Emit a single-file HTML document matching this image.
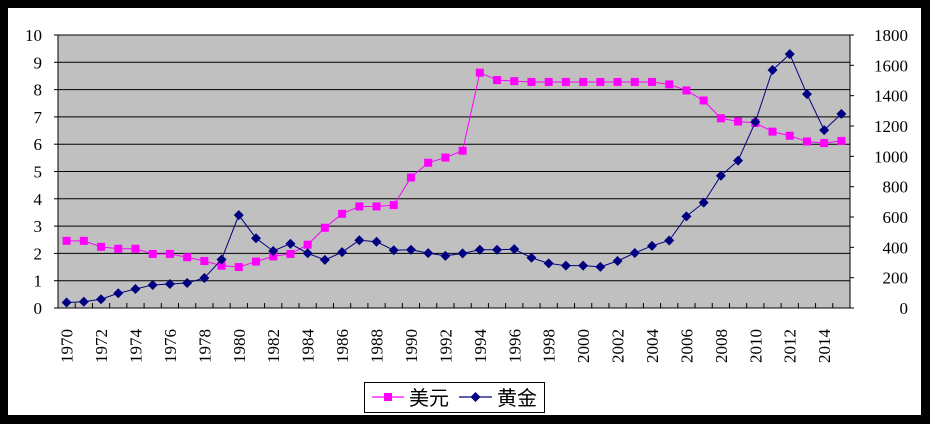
<!DOCTYPE html>
<html><head><meta charset="utf-8"><style>
html,body{margin:0;padding:0;background:#000;}
svg{display:block;}
text{font-family:"Liberation Serif","Noto Serif CJK SC",serif;fill:#000;}
</style></head><body>
<svg id="s" width="930" height="424" xmlns="http://www.w3.org/2000/svg">
<rect x="0" y="0" width="930" height="424" fill="#000"/>
<rect x="8" y="8" width="913" height="407" fill="#fff"/>
<rect x="58" y="35" width="792" height="273" fill="#c0c0c0" stroke="#808080" stroke-width="1"/>
<g id="g"></g>
<rect x="364.5" y="382.5" width="180" height="30" fill="#fff" stroke="#000"/>
<line x1="372" y1="397" x2="404" y2="397" stroke="#ff00ff" stroke-width="1.2"/>
<rect x="384" y="393" width="8" height="8" fill="#ff00ff"/>
<text x="409" y="405" font-size="20" style="font-family:'Noto Sans CJK SC',sans-serif">美元</text>
<line x1="459" y1="397" x2="492" y2="397" stroke="#000080" stroke-width="1.2"/>
<polygon points="475.5,392 480.5,397 475.5,402 470.5,397" fill="#000080"/>
<text x="497" y="405" font-size="20" style="font-family:'Noto Sans CJK SC',sans-serif">黄金</text>
</svg>
<script>
var g=document.getElementById('g'),h='';
var L=58,R=850,T=35,B=308,H=273,n=46,cw=(R-L)/n;
for(var i=1;i<=10;i++){var y=B-i*H/10;h+='<line x1="58" y1="'+y+'" x2="850" y2="'+y+'" stroke="#000" stroke-width="1"/>';}
for(var i=0;i<=10;i++){var y=B-i*H/10;h+='<line x1="54" y1="'+y+'" x2="58" y2="'+y+'" stroke="#000"/>';h+='<text x="42" y="'+(y+6)+'" font-size="17" text-anchor="end">'+i+'</text>';}
for(var i=0;i<=9;i++){var y=B-i*H/9;h+='<line x1="850" y1="'+y+'" x2="854" y2="'+y+'" stroke="#000"/>';h+='<text x="908" y="'+(y+6)+'" font-size="17" text-anchor="end">'+(i*200)+'</text>';}
h+='<line x1="58" y1="308" x2="850" y2="308" stroke="#000"/><line x1="58" y1="35" x2="58" y2="308" stroke="#000"/><line x1="850" y1="35" x2="850" y2="308" stroke="#000"/>';
for(var i=0;i<=n;i++){var x=L+i*cw;h+='<line x1="'+x+'" y1="303" x2="'+x+'" y2="308" stroke="#000"/>';}
for(var i=0;i<n;i+=2){var x=L+(i+0.5)*cw+6;h+='<text transform="translate('+x+',363) rotate(-90)" font-size="17">'+(1970+i)+'</text>';}
var usd=[2.46,2.46,2.24,2.17,2.17,1.98,1.98,1.86,1.72,1.55,1.50,1.70,1.89,1.98,2.32,2.94,3.45,3.72,3.72,3.77,4.78,5.32,5.51,5.76,8.62,8.35,8.31,8.28,8.28,8.28,8.28,8.28,8.28,8.28,8.28,8.19,7.97,7.60,6.95,6.83,6.78,6.46,6.31,6.10,6.04,6.12];
var gold=[36,41,58,97,125,152,158,165,198,320,612,460,376,424,361,317,368,447,437,381,384,362,344,360,384,384,388,331,294,279,279,271,310,363,410,445,604,695,872,972,1226,1569,1674,1410,1173,1280];
function px(i){return L+(i+0.5)*cw;}
var p='';for(var i=0;i<n;i++)p+=px(i)+','+(B-usd[i]*H/10)+' ';
h+='<polyline points="'+p+'" fill="none" stroke="#ff00ff" stroke-width="1"/>';
for(var i=0;i<n;i++)h+='<rect x="'+(px(i)-4)+'" y="'+(B-usd[i]*H/10-4)+'" width="8" height="8" fill="#ff00ff"/>';
p='';for(var i=0;i<n;i++)p+=px(i)+','+(B-gold[i]*H/1800)+' ';
h+='<polyline points="'+p+'" fill="none" stroke="#000080" stroke-width="1"/>';
for(var i=0;i<n;i++){var x=px(i),y=B-gold[i]*H/1800;h+='<polygon points="'+x+','+(y-5)+' '+(x+5)+','+y+' '+x+','+(y+5)+' '+(x-5)+','+y+'" fill="#000080"/>';}
g.innerHTML=h;
</script>
</body></html>
